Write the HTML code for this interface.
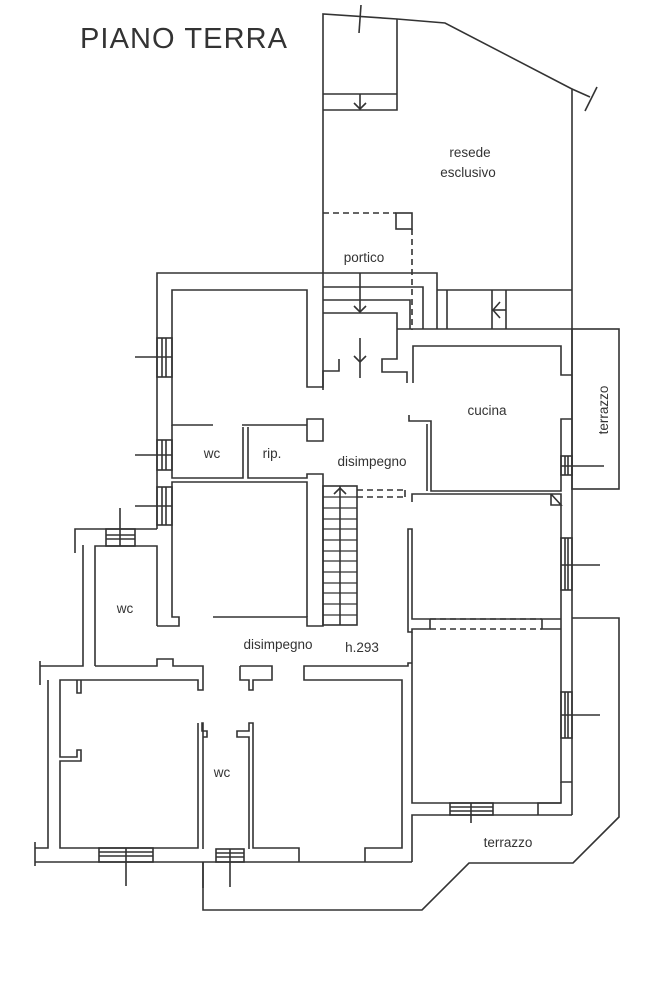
<!DOCTYPE html>
<html><head><meta charset="utf-8"><style>
html,body{margin:0;padding:0;background:#fff;}
svg{display:block;}
text{font-family:"Liberation Sans",Arial,sans-serif;fill:#333;}
</style></head><body>
<svg width="651" height="1000" viewBox="0 0 651 1000" xmlns="http://www.w3.org/2000/svg">
<g fill="none" stroke="#333" stroke-width="1.6">
<!-- resede -->
<polyline points="323,390 323,14 397,19 445,23 572,89 572,815"/>
<line x1="572" y1="89" x2="590" y2="97"/>
<line x1="585" y1="111" x2="597" y2="87"/>
<line x1="361" y1="5" x2="359" y2="33"/>
<polyline points="397,19 397,110 323,110"/>
<line x1="323" y1="94" x2="397" y2="94"/>
<line x1="360" y1="94" x2="360" y2="109"/>
<polyline points="354,103 360,109 366,103"/>
<!-- portico dashed -->
<line x1="323" y1="213" x2="396" y2="213" stroke-dasharray="6,4"/>
<rect x="396" y="213" width="16" height="16"/>
<line x1="412" y1="229" x2="412" y2="330" stroke-dasharray="6,4"/>
<!-- steps -->
<polyline points="157,529 157,273 437,273 437,329"/>
<polyline points="323,287 423,287 423,329"/>
<polyline points="323,300 410,300 410,329"/>
<polyline points="323,313 397,313 397,359 382,359 382,372 407,372 407,383"/>
<line x1="360" y1="273" x2="360" y2="312"/>
<polyline points="354,306 360,312 366,306"/>
<line x1="360" y1="338" x2="360" y2="378"/>
<polyline points="354,356 360,362 366,356"/>
<polyline points="339,359 339,371 323,371 323,387 307,387 307,290 172,290 172,425 213,425"/>
<!-- right of portico -->
<polyline points="437,290 572,290"/>
<line x1="447" y1="290" x2="447" y2="329"/>
<line x1="492" y1="290" x2="492" y2="329"/>
<line x1="506" y1="290" x2="506" y2="329"/>
<line x1="492" y1="310" x2="506" y2="310"/>
<polyline points="500,302 493,310 500,318"/>
<!-- kitchen -->
<polyline points="397,329 572,329"/>
<polyline points="413,383 413,346 561,346 561,375 572,375"/>
<polyline points="572,419 561,419 561,491 431,491 431,421 409,421 409,415"/>
<line x1="427" y1="424" x2="427" y2="491"/>
<rect x="561" y="456" width="11" height="19"/>
<line x1="565" y1="456" x2="565" y2="475"/><line x1="568" y1="456" x2="568" y2="475"/>
<line x1="561" y1="466" x2="604" y2="466"/>
<rect x="572" y="329" width="47" height="160"/>
<!-- below kitchen -->
<polyline points="412,502 412,494 561,494 561,782 572,782"/>
<polyline points="551,494 551,505 561,505 551,494"/>
<line x1="357" y1="490" x2="405" y2="490" stroke-dasharray="6,4"/>
<line x1="357" y1="497" x2="405" y2="497" stroke-dasharray="6,4"/>
<line x1="405" y1="490" x2="405" y2="497"/>
<polyline points="408,626 408,529 412,529 412,619 561,619"/>
<line x1="430" y1="619" x2="542" y2="619" stroke-dasharray="6,4"/>
<line x1="430" y1="629" x2="542" y2="629" stroke-dasharray="6,4"/>
<polyline points="408,626 408,632 412,632 412,629 430,629 430,619"/>
<polyline points="542,619 542,629 561,629"/>
<rect x="561" y="538" width="11" height="52"/>
<line x1="565" y1="538" x2="565" y2="590"/><line x1="568" y1="538" x2="568" y2="590"/>
<line x1="561" y1="565" x2="600" y2="565"/>
<rect x="561" y="692" width="11" height="46"/>
<line x1="565" y1="692" x2="565" y2="738"/><line x1="568" y1="692" x2="568" y2="738"/>
<line x1="561" y1="715" x2="600" y2="715"/>
<polyline points="561,782 561,803 538,803 538,815"/>
<polyline points="412,663 408,663 408,666 304,666 304,680 402,680 402,848 365,848 365,862"/>
<polyline points="412,632 412,803 561,803"/>
<polyline points="412,862 412,815 572,815"/>
<rect x="450" y="803" width="43" height="12"/>
<line x1="450" y1="807" x2="493" y2="807"/><line x1="450" y1="811" x2="493" y2="811"/>
<line x1="471" y1="803" x2="471" y2="823"/>
<!-- outer terrace -->
<polyline points="572,618 619,618 619,817 573,863 469,863 422,910 203,910 203,862"/>
<line x1="203" y1="862" x2="203" y2="888"/>
<!-- upper left rooms -->
<polyline points="242,425 307,425 307,419 323,419 323,441 307,441 307,425"/>
<polyline points="172,425 172,478 243,478 243,427"/>
<polyline points="248,427 248,478 307,478 307,474 323,474 323,626 307,626 307,617 213,617"/>
<polyline points="157,626 157,546 95,546 95,666"/>
<polyline points="157,626 179,626 179,617 172,617 172,482 307,482 307,617"/>
<rect x="157" y="338" width="15" height="39"/>
<line x1="162" y1="338" x2="162" y2="377"/><line x1="166" y1="338" x2="166" y2="377"/>
<line x1="135" y1="357" x2="172" y2="357"/>
<rect x="157" y="440" width="15" height="30"/>
<line x1="162" y1="440" x2="162" y2="470"/><line x1="166" y1="440" x2="166" y2="470"/>
<line x1="135" y1="455" x2="172" y2="455"/>
<rect x="157" y="487" width="15" height="38"/>
<line x1="162" y1="487" x2="162" y2="525"/><line x1="166" y1="487" x2="166" y2="525"/>
<line x1="135" y1="506" x2="172" y2="506"/>
<!-- stairs -->
<rect x="323" y="486" width="34" height="139"/>
<line x1="340" y1="486" x2="340" y2="625"/>
<g stroke-width="1.2">
<line x1="323" y1="497" x2="357" y2="497"/><line x1="323" y1="508" x2="357" y2="508"/><line x1="323" y1="519" x2="357" y2="519"/><line x1="323" y1="529" x2="357" y2="529"/><line x1="323" y1="540" x2="357" y2="540"/><line x1="323" y1="551" x2="357" y2="551"/><line x1="323" y1="561" x2="357" y2="561"/><line x1="323" y1="572" x2="357" y2="572"/><line x1="323" y1="583" x2="357" y2="583"/><line x1="323" y1="593" x2="357" y2="593"/><line x1="323" y1="604" x2="357" y2="604"/><line x1="323" y1="615" x2="357" y2="615"/>
</g>
<polyline points="334,494 340,488 346,494"/>
<!-- left wc -->
<polyline points="75,553 75,529 157,529"/>
<polyline points="83,545 83,666 40,666"/>
<line x1="40" y1="661" x2="40" y2="685"/>
<rect x="106" y="529" width="29" height="17"/>
<line x1="106" y1="535" x2="135" y2="535"/><line x1="106" y1="539" x2="135" y2="539"/>
<line x1="120" y1="508" x2="120" y2="546"/>
<polyline points="95,666 157,666 157,659 173,659 173,666 203,666 203,690 198,690 198,680 60,680 60,757 77,757 77,750 81,750 81,761 60,761 60,848 198,848 198,723"/>
<polyline points="48,680 48,848 35,848"/>
<line x1="35" y1="842" x2="35" y2="866"/>
<polyline points="35,862 412,862"/>
<polyline points="77,680 77,693 81,693 81,680"/>
<polyline points="240,666 272,666 272,680 253,680 253,690 249,690 249,680 240,680 240,666"/>
<polyline points="203,849 203,723 202,723 202,731 207,731 207,737 203,737"/>
<polyline points="249,849 249,737 237,737 237,731 249,731 249,723 253,723 253,848 299,848 299,862"/>
<rect x="99" y="848" width="54" height="14"/>
<line x1="99" y1="852" x2="153" y2="852"/><line x1="99" y1="856" x2="153" y2="856"/>
<line x1="126" y1="848" x2="126" y2="886"/>
<rect x="216" y="849" width="28" height="13"/>
<line x1="216" y1="853" x2="244" y2="853"/><line x1="216" y1="857" x2="244" y2="857"/>
<line x1="230" y1="849" x2="230" y2="887"/>
</g>
<text x="80" y="48" font-size="29" textLength="207" fill="#111">PIANO TERRA</text>
<text x="470" y="157" font-size="13.5" text-anchor="middle">resede</text>
<text x="468" y="177" font-size="13.5" text-anchor="middle">esclusivo</text>
<text x="364" y="262" font-size="13.5" text-anchor="middle">portico</text>
<text x="487" y="415" font-size="13.5" text-anchor="middle">cucina</text>
<text x="0" y="0" font-size="13.5" text-anchor="middle" transform="translate(608,410) rotate(-90)">terrazzo</text>
<text x="212" y="458" font-size="13.5" text-anchor="middle">wc</text>
<text x="272" y="458" font-size="13.5" text-anchor="middle">rip.</text>
<text x="372" y="466" font-size="13.5" text-anchor="middle">disimpegno</text>
<text x="125" y="613" font-size="13.5" text-anchor="middle">wc</text>
<text x="278" y="649" font-size="13.5" text-anchor="middle">disimpegno</text>
<text x="362" y="652" font-size="13.5" text-anchor="middle">h.293</text>
<text x="222" y="777" font-size="13.5" text-anchor="middle">wc</text>
<text x="508" y="847" font-size="13.5" text-anchor="middle">terrazzo</text>
</svg>
</body></html>
